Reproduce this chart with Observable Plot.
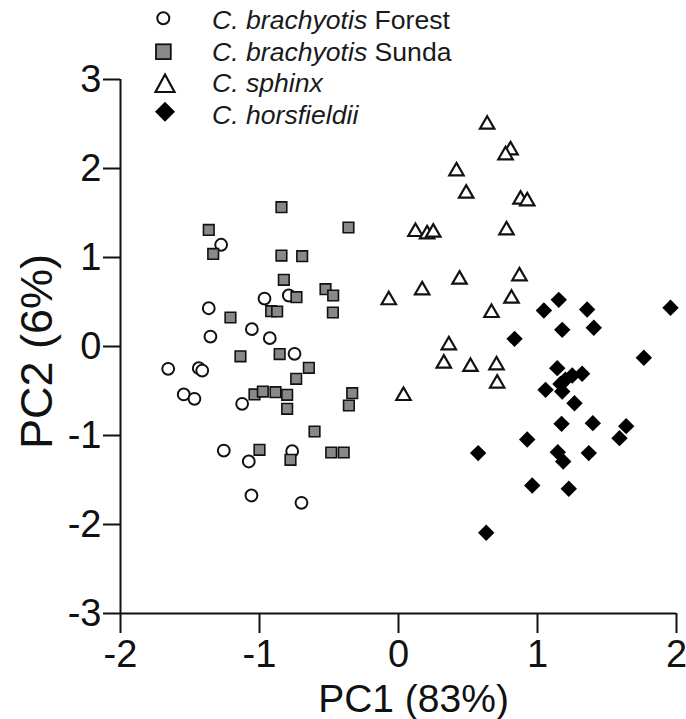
<!DOCTYPE html>
<html><head><meta charset="utf-8">
<script src="https://cdn.jsdelivr.net/npm/d3@7"></script>
<script src="https://cdn.jsdelivr.net/npm/@observablehq/plot@0.6"></script>
<style>
body{margin:0;background:#fff;}
#wrap{position:relative;width:686px;height:719px;font-family:"Liberation Sans",Arial,Helvetica,sans-serif;}
#legend{position:absolute;left:0;top:0;}
</style></head><body><div id="wrap"></div>
<script>
// ---- data ----
const xTicks = [-2, -1, 0, 1, 2];
const yTicks = [-3, -2, -1, 0, 1, 2, 3];
const xLabel = "PC1 (83%)";
const yLabel = "PC2 (6%)";
const speciesNames = ["C. brachyotis Forest", "C. brachyotis Sunda", "C. sphinx", "C. horsfieldii"];

const forestX = [-1.276, -0.789, -0.964, -1.365, -1.055, -1.353, -0.926, -0.748, -1.657, -1.437, -1.412, -1.545, -1.468, -1.125, -1.257, -1.077, -0.765, -1.058, -0.698];
const forestY = [1.143, 0.573, 0.539, 0.43, 0.195, 0.112, 0.094, -0.082, -0.251, -0.244, -0.27, -0.539, -0.588, -0.644, -1.169, -1.292, -1.176, -1.674, -1.756];

const sundaX = [-0.842, -1.365, -0.36, -1.333, -0.842, -0.693, -0.825, -0.525, -0.47, -0.734, -0.472, -0.916, -0.873, -1.209, -1.137, -0.855, -0.645, -0.736, -1.036, -0.976, -0.885, -0.801, -0.801, -0.333, -0.357, -0.604, -1.0, -0.777, -0.484, -0.394];
const sundaY = [1.565, 1.31, 1.337, 1.04, 1.022, 1.015, 0.749, 0.644, 0.573, 0.554, 0.382, 0.397, 0.393, 0.326, -0.11, -0.085, -0.24, -0.363, -0.539, -0.506, -0.513, -0.543, -0.70, -0.524, -0.663, -0.955, -1.161, -1.273, -1.191, -1.191];

const sphinxX = [0.638, 0.806, 0.77, 0.417, 0.487, 0.878, 0.926, 0.122, 0.206, 0.25, 0.777, -0.07, 0.17, 0.439, 0.87, 0.813, 0.669, 0.362, 0.326, 0.518, 0.705, 0.71, 0.036];
const sphinxY = [2.509, 2.221, 2.165, 1.985, 1.734, 1.667, 1.648, 1.303, 1.277, 1.296, 1.322, 0.536, 0.648, 0.768, 0.805, 0.554, 0.393, 0.03, -0.176, -0.213, -0.195, -0.40, -0.54];

const horsX = [1.153, 1.046, 1.357, 1.957, 1.178, 1.405, 0.835, 1.765, 1.142, 1.321, 1.25, 1.201, 1.165, 1.058, 1.178, 1.266, 1.173, 1.398, 1.638, 1.59, 0.926, 0.573, 1.146, 1.185, 1.369, 0.962, 1.225, 0.631];
const horsY = [0.524, 0.404, 0.416, 0.435, 0.187, 0.21, 0.086, -0.127, -0.243, -0.307, -0.326, -0.374, -0.42, -0.487, -0.506, -0.637, -0.869, -0.861, -0.895, -1.03, -1.045, -1.198, -1.187, -1.292, -1.198, -1.562, -1.599, -2.093];

// ---- build tables ----
const rows = (name, xs, ys) => xs.map((x, i) => ({species: name, x, y: ys[i]}));
const forest = rows(speciesNames[0], forestX, forestY);
const sunda = rows(speciesNames[1], sundaX, sundaY);
const sphinx = rows(speciesNames[2], sphinxX, sphinxY);
const horsfieldii = rows(speciesNames[3], horsX, horsY);

// ---- custom symbols (size = r*r*PI) ----
const rad = s => Math.sqrt(s / Math.PI);
const squareSym = {draw(c, s) { const r = rad(s); c.rect(-r, -r, 2 * r, 2 * r); }};
const triangleSym = {draw(c, s) { const r = rad(s); c.moveTo(0, -r); c.lineTo(r * 1.03, r * 0.78); c.lineTo(-r * 1.03, r * 0.78); c.closePath(); }};
const diamondSym = {draw(c, s) { const r = rad(s); c.moveTo(0, -r); c.lineTo(r, 0); c.lineTo(0, r); c.lineTo(-r, 0); c.closePath(); }};

const FONT = '"Liberation Sans", Arial, Helvetica, sans-serif';

const chart = Plot.plot({
  width: 686,
  height: 719,
  marginLeft: 120,
  marginRight: 10,
  marginTop: 79,
  marginBottom: 106,
  style: {fontFamily: FONT, color: "#111", background: "white", overflow: "visible"},
  x: {domain: [-2, 2]},
  y: {domain: [-3, 3]},
  marks: [
    Plot.ruleX([-2], {stroke: "#111", strokeWidth: 2}),
    Plot.ruleY([-3], {stroke: "#111", strokeWidth: 2}),
    Plot.axisX({ticks: xTicks, tickSize: 20, tickPadding: 7, tickFormat: d => String(d), fontSize: 38, label: null, strokeWidth: 2, stroke: "#111", fill: "#111"}),
    Plot.axisY({ticks: yTicks, tickSize: 17, tickPadding: 2, tickFormat: d => String(d), fontSize: 38, label: null, strokeWidth: 2, stroke: "#111", fill: "#111"}),
    Plot.text([xLabel], {frameAnchor: "bottom", lineAnchor: "middle", dx: 15, dy: 86, fontSize: 39, fill: "#111", textAnchor: "middle"}),
    Plot.text([yLabel], {frameAnchor: "left", lineAnchor: "middle", rotate: -90, dx: -83, dy: 5, fontSize: 45, fill: "#111", textAnchor: "middle"}),
    Plot.dot(forest, {x: "x", y: "y", symbol: "circle", r: 5.9, fill: "white", stroke: "#111", strokeWidth: 2}),
    Plot.dot(sunda, {x: "x", y: "y", symbol: squareSym, r: 5.3, fill: "#888", stroke: "#111", strokeWidth: 1.6}),
    Plot.dot(sphinx, {x: "x", y: "y", symbol: triangleSym, r: 7, fill: "white", stroke: "#111", strokeWidth: 2.2}),
    Plot.dot(horsfieldii, {x: "x", y: "y", symbol: diamondSym, r: 8.2, fill: "#000", stroke: "none"})
  ]
});

const wrap = document.getElementById("wrap");
wrap.appendChild(chart);

// ---- legend ----
const legendRows = [
  {ital: "C. brachyotis", rest: " Forest", base: 29, sym: '<circle cx="163.3" cy="18.3" r="6" fill="white" stroke="#111" stroke-width="2"/>'},
  {ital: "C. brachyotis", rest: " Sunda", base: 60.5, sym: '<rect x="156" y="44.3" width="14.8" height="14.8" fill="#888" stroke="#111" stroke-width="1.8"/>'},
  {ital: "C. sphinx", rest: "", base: 92, sym: '<path d="M165,74.5L174.5,92L155.5,92Z" fill="white" stroke="#111" stroke-width="2.2"/>'},
  {ital: "C. horsfieldii", rest: "", base: 123.5, sym: '<path d="M165,101.7L175,111.7L165,121.7L155,111.7Z" fill="#000"/>'}
];
let svg = '<svg id="legend" width="480" height="135" xmlns="http://www.w3.org/2000/svg" style="font-family:' + FONT.replace(/"/g, "'") + '">';
legendRows.forEach((r, i) => {
  svg += r.sym;
  svg += '<text x="212" y="' + r.base + '" font-size="26.6" fill="#1a1a1a"><tspan font-style="italic">' + r.ital + '</tspan>' + r.rest + '</text>';
});
svg += '</svg>';
wrap.insertAdjacentHTML("beforeend", svg);
</script>
</body></html>
